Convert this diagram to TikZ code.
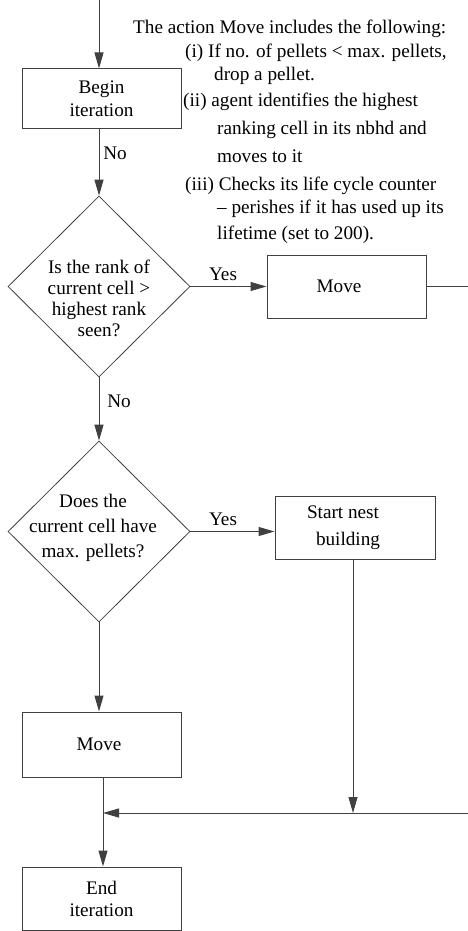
\documentclass[tikz,border=0pt]{standalone}
\usepackage{fontspec}
\setmainfont{Liberation Serif}
\usetikzlibrary{arrows.meta,shapes.geometric}
\newcommand{\fs}[1]{\rmfamily\fontsize{19.2}{#1}\selectfont}
\begin{document}
\begin{tikzpicture}[x=1pt,y=-1pt,
  every node/.style={font=\fs{22}},
  ln/.style={draw=black!75, line width=1pt},
  arr/.style={ln, -{Triangle[length=16pt,width=9pt]}},
  box/.style={draw=black!75, line width=1pt, rectangle, inner sep=0pt, minimum width=159pt, align=center},
  dia/.style={draw=black!75, line width=0.8pt, diamond, inner sep=0pt, minimum width=182pt, minimum height=181pt},
  lbl/.style={inner sep=0pt, text height=13pt, text depth=4pt},
  note/.style={inner sep=0pt, anchor=west, text height=13pt, text depth=4pt}]
\useasboundingbox (0,0) rectangle (468,931);

% shapes
\node[box, minimum height=60pt, font=\fs{23}] (begin) at (101.5,99) {Begin\\iteration};
\node[dia] (d1) at (99,286.5) {};
\node[align=center, inner sep=0pt, font=\fs{21}] (d1t) at (99,298.5) {Is the rank of\\current cell >\\highest rank\\seen?};
\node[box, minimum height=63pt, font=\fs{22}] (m1) at (346.5,286.5) {Move\hspace*{15pt}};
\node[dia] (d2) at (99,531.5) {};
\node[align=center, inner sep=0pt, font=\fs{25}] (d2t) at (93,528) {Does the\\current cell have\\max. pellets?};
\node[box, minimum width=160pt, minimum height=63pt, font=\fs{27}] (snb) at (355,527.5) {Start nest\hspace*{24pt}\\building\hspace*{14pt}};
\node[box, minimum height=65pt, font=\fs{22}] (m2) at (101.5,744.5) {\raisebox{-3pt}{Move}\hspace*{5pt}};
\node[box, minimum height=63pt, font=\fs{22}] (end) at (101.5,898.5) {End\\iteration};

% free ends
\coordinate (top) at (99,0);
\coordinate (r1) at (468,286.5);
\coordinate (r2) at (468,813);
\coordinate (j) at (103,813);
\coordinate (sx) at (353,813);

% connectors
\draw[arr] (top) -- (top |- begin.north);
\draw[arr] (begin.south -| d1.north) -- (d1.north);
\node[lbl] (no1) at (115,155) {No};
\draw[arr] (d1.east) -- (m1.west);
\node[lbl] (yes1) at (223,276) {Yes};
\draw[ln] (m1.east) -- (r1);
\draw[arr] (d1.south) -- (d2.north);
\node[lbl] (no2) at (119,403) {No};
\draw[arr] (d2.east) -- (d2.east -| snb.west);
\node[lbl] (yes2) at (223,521) {Yes};
\draw[arr] (d2.south) -- (d2.south |- m2.north);
\draw[arr] (m2.south -| j) -- (end.north -| j);
\draw[arr] (snb.south -| sx) -- (sx);
\draw[arr] (r2) -- (j);

% annotation
\node[note] (n0) at (133,29) {The action Move includes the following:};
\node[note] (n1) at (185,53) {(i) If no. of pellets < max. pellets,};
\node[note] (n2) at (214,76) {drop a pellet.};
\node[note] (n3) at (183,102) {(ii) agent identifies the highest};
\node[note] (n4) at (217,130) {ranking cell in its nbhd and};
\node[note] (n5) at (217,158) {moves to it};
\node[note] (n6) at (185,186) {(iii) Checks its life cycle counter};
\node[note] (n7) at (217,209) {– perishes if it has used up its};
\node[note] (n8) at (217,235) {lifetime (set to 200).};
\end{tikzpicture}
\end{document}
